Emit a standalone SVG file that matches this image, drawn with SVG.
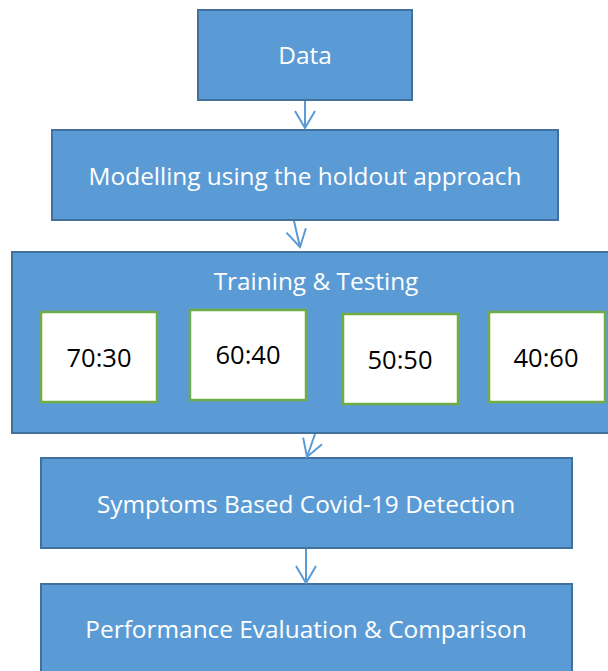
<svg xmlns="http://www.w3.org/2000/svg" width="608" height="671" viewBox="0 0 608 671">
  <style>
    .box { fill: #5B9BD5; stroke: #41719C; stroke-width: 2; }
    .ratio { fill: #FFFFFF; stroke: #70AD47; stroke-width: 2.5; }
    .label { font-family: "Open Sans", "Noto Sans", sans-serif; font-size: 24.4px; fill: #FFFFFF; text-anchor: middle; }
    .ratio-label { font-family: "Open Sans", "Noto Sans", sans-serif; font-size: 25.5px; fill: #000000; text-anchor: middle; }
    .link { fill: none; stroke: #5B9BD5; stroke-width: 2; marker-end: url(#vhead); }
  </style>
  <defs>
    <marker id="vhead" markerUnits="userSpaceOnUse" viewBox="-20 -12 22 24" refX="0" refY="0" markerWidth="22" markerHeight="24" orient="auto" overflow="visible">
      <path d="M-17,-10 L0,0 L-17,10" fill="none" stroke="#5B9BD5" stroke-width="2" stroke-linejoin="miter"/>
    </marker>
  </defs>

  <rect width="608" height="671" fill="#FFFFFF"/>

  <g id="data">
    <rect class="box" x="198" y="10" width="214" height="90"/>
    <text class="label" x="305" y="64">Data</text>
  </g>

  <g id="modelling">
    <rect class="box" x="52" y="130" width="506" height="90"/>
    <text class="label" x="305" y="185">Modelling using the holdout approach</text>
  </g>

  <g id="training-testing">
    <rect class="box" x="12" y="252" width="604" height="181"/>
    <text class="label" x="316" y="290">Training &amp; Testing</text>
    <g id="split-70-30">
      <rect class="ratio" x="41" y="312" width="116" height="90"/>
      <text class="ratio-label" x="99" y="367">70:30</text>
    </g>
    <g id="split-60-40">
      <rect class="ratio" x="190" y="310" width="116" height="90"/>
      <text class="ratio-label" x="248" y="364">60:40</text>
    </g>
    <g id="split-50-50">
      <rect class="ratio" x="343" y="314" width="115" height="90"/>
      <text class="ratio-label" x="400" y="369">50:50</text>
    </g>
    <g id="split-40-60">
      <rect class="ratio" x="489" y="312" width="116" height="90"/>
      <text class="ratio-label" x="546" y="367">40:60</text>
    </g>
  </g>

  <g id="detection">
    <rect class="box" x="41" y="458" width="531" height="90"/>
    <text class="label" x="306" y="513">Symptoms Based Covid-19 Detection</text>
  </g>

  <g id="evaluation">
    <rect class="box" x="41" y="584" width="531" height="100"/>
    <text class="label" x="306" y="638">Performance Evaluation &amp; Comparison</text>
  </g>

  <g id="connectors">
    <path class="link" d="M305,101 L305,128"/>
    <path class="link" d="M294,221 L300,247"/>
    <path class="link" d="M315,434 L307,457"/>
    <path class="link" d="M306,549 L306,583"/>
  </g>
</svg>
